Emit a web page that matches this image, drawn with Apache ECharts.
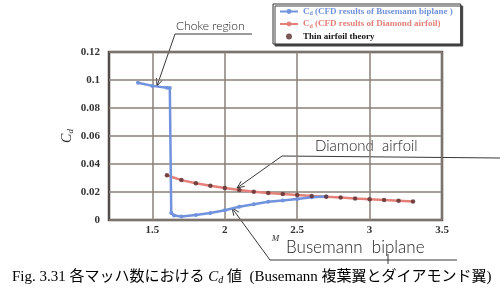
<!DOCTYPE html>
<html><head><meta charset="utf-8">
<script src="https://cdn.jsdelivr.net/npm/echarts@6/dist/echarts.min.js"></script>
<style>html,body{margin:0;padding:0;background:#fff}#c{width:500px;height:292px}</style>
</head><body><div id="c"></div>
<script>
// ---- data ----
const busemannM  = [1.4, 1.5, 1.6, 1.62, 1.63, 1.65, 1.7, 1.8, 1.9, 2.0, 2.1, 2.2, 2.3, 2.4, 2.5, 2.6, 2.7];
const busemannCd = [0.0980, 0.0958, 0.0944, 0.0942, 0.0050, 0.0032, 0.0025, 0.0035, 0.0050, 0.0070, 0.0095, 0.0113, 0.0130, 0.0140, 0.0150, 0.0162, 0.0168];
const diamondM   = [1.6, 1.7, 1.8, 1.9, 2.0, 2.1, 2.2, 2.3, 2.4, 2.5, 2.6, 2.7, 2.8, 2.9, 3.0, 3.1, 3.2, 3.3];
const diamondCd  = [0.0320, 0.0285, 0.0262, 0.0245, 0.0228, 0.0214, 0.0202, 0.0193, 0.0186, 0.0178, 0.0171, 0.0166, 0.0160, 0.0153, 0.0148, 0.0143, 0.0138, 0.0132];
const theoryM    = [1.6, 1.7, 1.8, 1.9, 2.0, 2.1, 2.2, 2.3, 2.4, 2.5, 2.6, 2.7, 2.8, 2.9, 3.0, 3.1, 3.2, 3.3];
const theoryCd   = [0.0320, 0.0285, 0.0262, 0.0245, 0.0228, 0.0214, 0.0202, 0.0193, 0.0186, 0.0178, 0.0171, 0.0166, 0.0160, 0.0153, 0.0148, 0.0143, 0.0138, 0.0132];
const xTicks = [1.5, 2, 2.5, 3, 3.5];
const seriesNames = ['Busemann', 'Diamond', 'Thin airfoil theory'];

const zip = (a, b) => a.map((v, i) => [v, b[i]]);
const serif = '"Liberation Serif", "DejaVu Serif", serif';
const hand = 'Lato, "Open Sans", sans-serif';
const BLUE = '#7192dc', RED = '#e3807a', DARK = '#5a2e2e';

function arrow(x1, y1, x2, y2) {
  const a = Math.atan2(y2 - y1, x2 - x1), L = 8, w = 0.4;
  return [
    {type: 'polyline', shape: {points: [[x1, y1], [x2, y2]]}, style: {stroke: '#222', lineWidth: 0.9, fill: null}},
    {type: 'polyline', shape: {points: [[x2 - L * Math.cos(a - w), y2 - L * Math.sin(a - w)], [x2, y2], [x2 - L * Math.cos(a + w), y2 - L * Math.sin(a + w)]]}, style: {stroke: '#222', lineWidth: 0.9, fill: null}}
  ];
}
function line(pts, lw) { return {type: 'polyline', shape: {points: pts}, style: {stroke: '#222', lineWidth: lw || 0.9, fill: null}}; }

const chart = echarts.init(document.getElementById('c'), null, {renderer: 'canvas'});
chart.setOption({
  animation: false,
  backgroundColor: '#fff',
  grid: {left: 109, top: 52, right: 58, bottom: 72, show: true, borderColor: '#544c48', borderWidth: 2.5, backgroundColor: '#fff'},
  legend: {
    orient: 'vertical', left: 273, top: 4, itemGap: 3, itemWidth: 18, itemHeight: 6,
    padding: [3, 8, 3, 6], borderColor: '#333', borderWidth: 1, backgroundColor: '#fff',
    shadowColor: '#444', shadowOffsetX: 2, shadowOffsetY: 2, shadowBlur: 0,
    textStyle: {fontFamily: serif, fontSize: 9, fontWeight: 'bold',
      rich: {c: {fontFamily: serif, fontSize: 9, fontWeight: 'bold'}, d: {fontFamily: serif, fontSize: 6, fontWeight: 'bold', verticalAlign: 'bottom', padding: [4, 0, 0, 0]}}},
    formatter: function (n) {
      if (n === seriesNames[0]) return '{c|C}{d|d}{c| (CFD results of Busemann biplane )}';
      if (n === seriesNames[1]) return '{c|C}{d|d}{c| (CFD results of Diamond airfoil)}';
      return n;
    },
    data: [
      {name: seriesNames[0], textStyle: {color: BLUE, rich: {c: {color: BLUE}, d: {color: BLUE}}}},
      {name: seriesNames[1], textStyle: {color: RED, rich: {c: {color: RED}, d: {color: RED}}}},
      {name: seriesNames[2], icon: 'circle', textStyle: {color: '#111'}}
    ]
  },
  xAxis: {
    type: 'value', min: 1.2, max: 3.5,
    name: 'M', nameLocation: 'middle', nameGap: 14, nameMoveOverlap: false,
    nameTextStyle: {fontFamily: serif, fontStyle: 'italic', fontSize: 9, color: '#333'},
    axisLine: {show: false}, axisTick: {show: false, customValues: xTicks},
    axisLabel: {customValues: xTicks, fontFamily: serif, fontWeight: 'bold', fontSize: 11, color: '#333', margin: 5},
    splitLine: {show: true, lineStyle: {color: '#8a8079', width: 1.5}}
  },
  yAxis: {
    type: 'value', min: 0, max: 0.12, interval: 0.02,
    name: '{c|C}{d|d}', nameLocation: 'middle', nameGap: 34, nameRotate: 90, nameMoveOverlap: false,
    nameTextStyle: {rich: {c: {fontFamily: serif, fontStyle: 'italic', fontSize: 14, color: '#333'}, d: {fontFamily: serif, fontStyle: 'italic', fontSize: 9, color: '#333', padding: [6, 0, 0, 0]}}},
    axisLine: {show: false}, axisTick: {show: false},
    axisLabel: {fontFamily: serif, fontWeight: 'bold', fontSize: 11, color: '#333', margin: 9,
      formatter: v => String(+v.toFixed(2))},
    splitLine: {show: true, lineStyle: {color: '#8a8079', width: 1.5}}
  },
  series: [
    {name: seriesNames[0], type: 'line', data: zip(busemannM, busemannCd), color: BLUE,
      lineStyle: {width: 2.5, color: BLUE}, symbol: 'circle', symbolSize: 4, itemStyle: {color: BLUE}, z: 3},
    {name: seriesNames[1], type: 'line', data: zip(diamondM, diamondCd), color: RED,
      lineStyle: {width: 2.5, color: RED}, symbol: 'circle', symbolSize: 3, itemStyle: {color: RED}, z: 2},
    {name: seriesNames[2], type: 'scatter', data: zip(theoryM, theoryCd), color: DARK,
      symbolSize: 4.5, itemStyle: {color: DARK}, z: 4}
  ],
  graphic: [
    {type: 'text', left: 176, top: 20, style: {text: 'Choke region', font: '300 12px ' + hand, fill: '#222'}},
    line([[175, 34], [252, 34]]),
    ...arrow(175, 34, 157, 86),
    {type: 'text', left: 315, top: 139, style: {text: 'Diamond  airfoil', font: '300 15px ' + hand, fill: '#222'}},
    line([[282, 156], [500, 158]]),
    ...arrow(282, 156, 237, 188),
    {type: 'text', left: 286, top: 239, style: {text: 'Busemann  biplane', font: '300 17px ' + hand, fill: '#222'}},
    line([[270, 260], [457, 260]]),
    line([[388, 254], [388, 264]]),
    ...arrow(270, 260, 232, 208),
    {type: 'text', left: 12, top: 270, style: {
      text: '{a|Fig. 3.31 各マッハ数における }{i|C}{s|d}{a| 値  (Busemann 複葉翼とダイアモンド翼)}',
      rich: {
        a: {fontFamily: '"Liberation Serif", "Noto Sans CJK JP", serif', fontSize: 15, color: '#111'},
        i: {fontFamily: serif, fontStyle: 'italic', fontSize: 15, color: '#111'},
        s: {fontFamily: serif, fontStyle: 'italic', fontSize: 10, color: '#111', padding: [6, 0, 0, 0]}
      }}}
  ]
});
</script></body></html>
